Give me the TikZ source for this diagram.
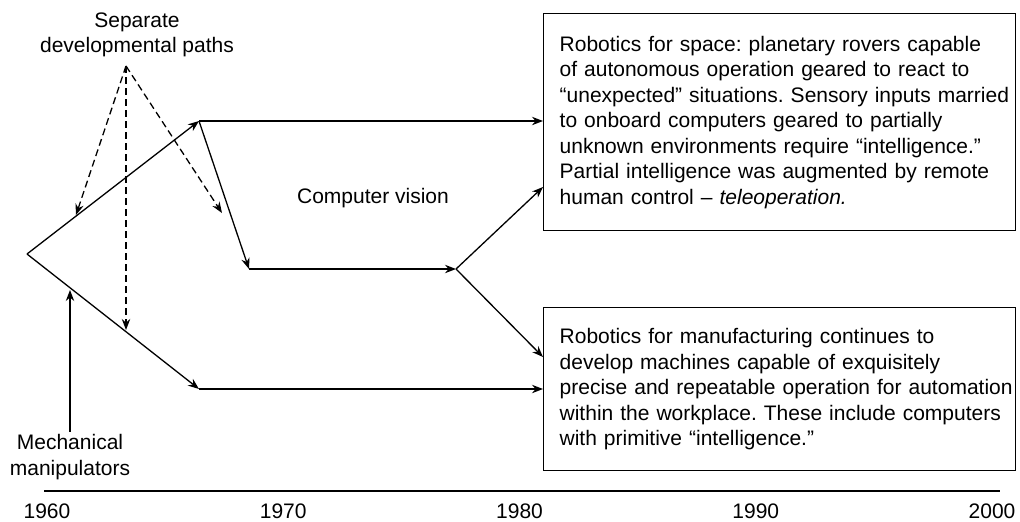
\documentclass[tikz,border=0pt]{standalone}
\usepackage{fontspec}
\setmainfont{Liberation Sans}
\usetikzlibrary{arrows.meta,positioning}

\begin{document}
\begin{tikzpicture}[
        x=0.5pt, y=-0.5pt,
        font=\fontsize{10.5}{12.75}\selectfont\frenchspacing,
        line width=0.65pt,
        box/.style={
            draw,
            anchor=north west,
            align=left,
            inner xsep=1pt,
            text width=234pt,
            minimum width=236pt,
            execute at begin node={\leftskip=7pt\rightskip=-8pt plus 1fil\relax}
        },
        label/.style={
            align=center,
            inner sep=1pt
        },
        flow/.style={-{Stealth[length=5.5pt,width=4.2pt]}},
        hint/.style={-{Stealth[length=5.5pt,width=4.2pt]},dash pattern=on 3.5pt off 2pt}
    ]
        \useasboundingbox (0,0) rectangle (1020,521);

        \coordinate (start) at (27,254);
        \coordinate (up) at (199,121);
        \coordinate (cv1) at (249,269);
        \coordinate (cv2) at (456,269);
        \coordinate (low) at (199,389);
        \coordinate (sep) at (126,66);

        \node[box, minimum height=108.5pt] (space) at (543,13)
            {Robotics for space: planetary rovers capable\\
             of autonomous operation geared to react to\\
             “unexpected” situations. Sensory inputs married\\
             to onboard computers geared to partially\\
             unknown environments require “intelligence.”\\
             Partial intelligence was augmented by remote\\
             human control – \textit{teleoperation.}};
        \node[box, minimum height=81.5pt] (manuf) at (543,307)
            {Robotics for manufacturing continues to\\
             develop machines capable of exquisitely\\
             precise and repeatable operation for automation\\
             within the workplace. These include computers\\
             with primitive “intelligence.”};

        \node[label] (seplabel) at (137,35) {Separate\\developmental paths};
        \node[label] (vision) at (373,198) {Computer vision};
        \node[label] (mech) at (70,457) {Mechanical\\manipulators};

        \coordinate (spin) at (543,187);
        \coordinate (manin) at (543,357);

        \draw[flow] (start) -- (up);
        \draw[flow] (up) -- (up -| space.west);
        \draw[flow] (up) -- (cv1);
        \draw[flow] (cv1) -- (cv2);
        \draw[flow] (cv2) -- (spin);
        \draw[flow] (cv2) -- (manin);
        \draw[flow] (start) -- (low);
        \draw[flow] (low) -- (low -| manuf.west);

        % dashed pointers from the label to the three paths
        \draw[hint] (sep) -- (76,215);
        \draw[hint] (sep) -- (222,213);
        \draw[hint] (sep) -- (126,330);
        \draw[flow] (mech.north) -- (70,290);

        % time axis
        \coordinate (t0) at (44,491);
        \coordinate (t1) at (1000,491);
        \draw[line width=0.75pt] (t0) -- (t1);
        \foreach \yr [count=\i from 0] in {1960,1970,1980,1990,2000}
            \node[label] (y\yr) at (47+236.25*\i,511) {\yr};

    \end{tikzpicture}
\end{document}
